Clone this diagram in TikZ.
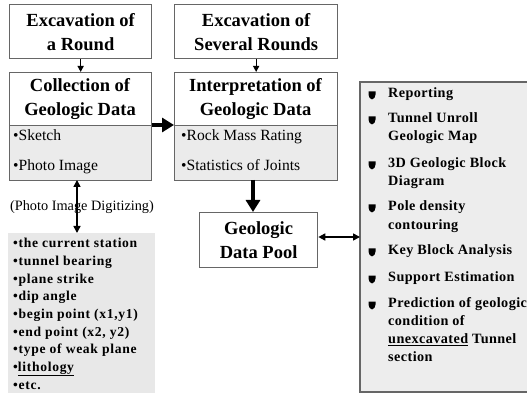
\documentclass[tikz,border=0pt]{standalone}
\usepackage{fontspec}
\setmainfont{Liberation Serif}
\usetikzlibrary{arrows.meta,calc}
\tikzset{
  box/.style={draw=black!60, line width=1.3pt, rectangle, inner sep=0pt, anchor=north west},
  band/.style={fill=black!8, draw=none},
  hdr/.style={font=\fontsize{18.5}{24}\selectfont\bfseries, align=center, inner sep=0pt},
  item/.style={font=\fontsize{15.6}{17}\selectfont, anchor=mid west, inner sep=0pt},
  litem/.style={font=\fontsize{13.6}{15}\selectfont\bfseries\addfontfeatures{LetterSpace=5}, anchor=mid west, inner sep=0pt},
  ritem/.style={font=\fontsize{14.2}{16}\selectfont\bfseries\addfontfeatures{LetterSpace=3}, anchor=mid west, inner sep=0pt},
  thin/.style={line width=1.3pt, -{Triangle[length=6pt,width=6pt]}},
  thick/.style={line width=3.5pt, -{Triangle[length=12pt,width=14pt]}},
  dbl/.style={line width=1.6pt, {Triangle[length=7pt,width=7pt]}-{Triangle[length=7pt,width=7pt]}},
}
\newcommand{\shieldbullet}[1]{\fill[black] ($(#1)+(-3.5,-3.5)$) -- ++(7,0) -- ++(0,3) .. controls +(0,3) and +(2,-1) .. ++(-3.5,5) .. controls +(-2,-1) and +(0,3) .. ++(-3.5,-5) -- cycle;}
\begin{document}
\begin{tikzpicture}[x=1pt,y=-1pt]
\useasboundingbox (0,0) rectangle (527,395);
\fill[white] (0,0) rectangle (527,395);

% top boxes
\node[box, minimum width=142, minimum height=54] (exc1) at (9,4) {};
\node[hdr] at (exc1.center) {Excavation of\\a Round};
\node[box, minimum width=163, minimum height=54] (exc2) at (174,4) {};
\node[hdr] at (exc2.center) {Excavation of\\Several Rounds};

% collection box
\fill[band] (9,126) rectangle (151,180);
\node[box, minimum width=142, minimum height=108] (coll) at (9,72) {};
\draw[black!60, line width=1pt] (9,126) -- (151,126);
\node[hdr] at (80,99.5) {Collection of\\Geologic Data};
\node[item] at (13,138) {•Sketch};
\node[item] at (13,168) {•Photo Image};

% interpretation box
\fill[band] (174,126) rectangle (337,180);
\node[box, minimum width=163, minimum height=108] (interp) at (174,72) {};
\draw[black!60, line width=1pt] (174,126) -- (337,126);
\node[hdr] at (255.5,99.5) {Interpretation of\\Geologic Data};
\node[item] at (181,138) {•Rock Mass Rating};
\node[item] at (181,168) {•Statistics of Joints};

% pool
\node[box, minimum width=118, minimum height=55] (pool) at (199,212) {};
\node[hdr] at (pool.center) {Geologic\\Data Pool};

% left list
\fill[black!9] (8,233) rectangle (155,393);
\coordinate (llist) at (77,233);
\node[font=\fontsize{14.3}{16}\selectfont, inner sep=0pt] at (82,207) {(Photo Image Digitizing)};
\node[litem] at (13,245) {•the current station};
\node[litem] at (13,263) {•tunnel bearing};
\node[litem] at (13,281) {•plane strike};
\node[litem] at (13,298) {•dip angle};
\node[litem] at (13,316) {•begin point (x1,y1)};
\node[litem] at (13,334) {•end point (x2, y2)};
\node[litem] at (13,351) {•type of weak plane};
\node[litem] at (13,369) {•\underline{lithology}};
\node[litem] at (13,387) {•etc.};

% right list
\fill[black!7] (360,82) rectangle (527,392);
\draw[black!60, line width=1.3pt] (527,82) -- (360,82) -- (360,392) -- (527,392);
\coordinate (rlist) at (360,237);
\foreach \yy in {95,120,165,208,252,279,305}{\shieldbullet{372,\yy}}
\node[ritem] at (388,95) {Reporting};
\node[ritem] at (388,120) {Tunnel Unroll};
\node[ritem] at (388,138) {Geologic Map};
\node[ritem] at (388,165) {3D Geologic Block};
\node[ritem] at (388,183) {Diagram};
\node[ritem] at (388,208) {Pole density};
\node[ritem] at (388,227) {contouring};
\node[ritem] at (388,252) {Key Block Analysis};
\node[ritem] at (388,279) {Support Estimation};
\node[ritem] at (388,305) {Prediction of geologic};
\node[ritem] at (388,323) {condition of};
\node[ritem] at (388,341) {\underline{unexcavated} Tunnel};
\node[ritem] at (388,359) {section};

% connectors
\draw[thin] (exc1.south) -- (exc1.south |- coll.north);
\draw[thin] (exc2.south) -- (exc2.south |- interp.north);
\draw[thick] (coll.east |- 0,125) -- (interp.west |- 0,125);
\draw[thick] (253,180) -- (253,212);
\draw[dbl] (pool.east |- 0,237) -- (rlist);
\draw[dbl] (77,180) -- (llist);
\end{tikzpicture}
\end{document}
